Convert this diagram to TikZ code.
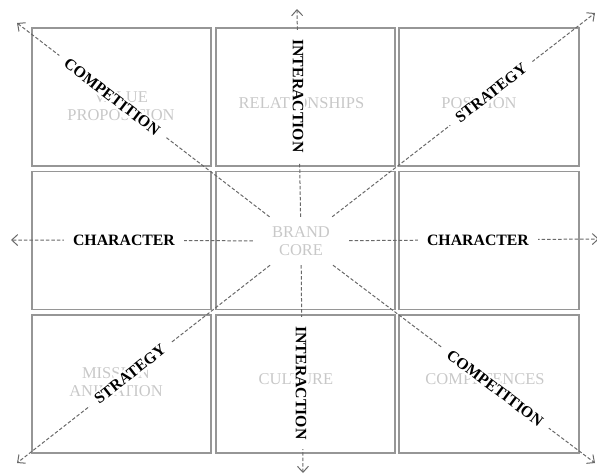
\documentclass[tikz,border=0pt]{standalone}
\usepackage{fontspec}
\setmainfont{Liberation Serif}
\usetikzlibrary{arrows.meta}
\definecolor{boxgray}{RGB}{150,150,150}
\definecolor{faint}{RGB}{200,200,200}
\definecolor{linegray}{RGB}{105,105,105}
\begin{document}
\begin{tikzpicture}[x=1pt,y=-1pt,
  cell/.style={draw=boxgray,line width=1.3pt,inner sep=0pt,minimum height=138pt},
  faded/.style={text=faint,font=\fontsize{16.5}{18}\selectfont,align=center,inner sep=0pt},
  lbl/.style={fill=white,font=\bfseries\fontsize{15.8}{18}\selectfont,inner xsep=9pt,inner ysep=2pt},
  ray/.style={draw=linegray,line width=1pt,dash pattern=on 3.5pt off 2pt,-{Straight Barb[length=6pt,width=11pt]}}]
\useasboundingbox (0,0) rectangle (597,475);
% cells
\node[cell,minimum width=179pt] (c11) at (121.5,97) {};
\node[cell,minimum width=179pt] (c12) at (305.5,97) {};
\node[cell,minimum width=180pt] (c13) at (489,97) {};
\node[cell,minimum width=179pt] (c21) at (121.5,240.5) {};
\node[cell,minimum width=179pt] (c22) at (305.5,240.5) {};
\node[cell,minimum width=180pt] (c23) at (489,240.5) {};
\node[cell,minimum width=179pt] (c31) at (121.5,384) {};
\node[cell,minimum width=179pt] (c32) at (305.5,384) {};
\node[cell,minimum width=180pt] (c33) at (489,384) {};
% faded texts
\node[faded] (t11) at (121,106) {VALUE\\PROPOSITION};
\node[faded] (t12) at (301.5,103) {RELATIONSHIPS};
\node[faded] (t13) at (479,103) {POSITION};
\node[faded] (t31) at (116,382) {MISSION\\ANIMATION};
\node[faded] (t32) at (296,379) {CULTURE};
\node[faded] (t33) at (485,379) {COMPETENCES};
\node[faded,minimum width=96pt,minimum height=48pt] (core) at (301,241) {BRAND\\CORE};
% ends
\coordinate (tl) at (17,23);
\coordinate (tr) at (595,13);
\coordinate (bl) at (17,463);
\coordinate (br) at (595,463);
\coordinate (up) at (297,9);
\coordinate (dn) at (303,473);
\coordinate (lf) at (11,240);
\coordinate (rt) at (599,239);
\draw[ray] (core) -- (tl);
\draw[ray] (core) -- (tr);
\draw[ray] (core) -- (bl);
\draw[ray] (core) -- (br);
\draw[ray] (core) -- (up);
\draw[ray] (core) -- (dn);
\draw[ray] (core) -- (lf);
\draw[ray] (core) -- (rt);
% labels
\node[lbl,rotate=-37.5] (l1) at (112,97) {COMPETITION};
\node[lbl,rotate=37.8] (l2) at (491,93) {STRATEGY};
\node[lbl,rotate=38] (l3) at (130,374) {STRATEGY};
\node[lbl,rotate=-37] (l4) at (495,388) {COMPETITION};
\node[lbl,rotate=-90] (l5) at (298,96) {INTERACTION};
\node[lbl,rotate=-90] (l6) at (301,383) {INTERACTION};
\node[lbl] (l7) at (124,240) {CHARACTER};
\node[lbl] (l8) at (478,240) {CHARACTER};
\end{tikzpicture}
\end{document}
